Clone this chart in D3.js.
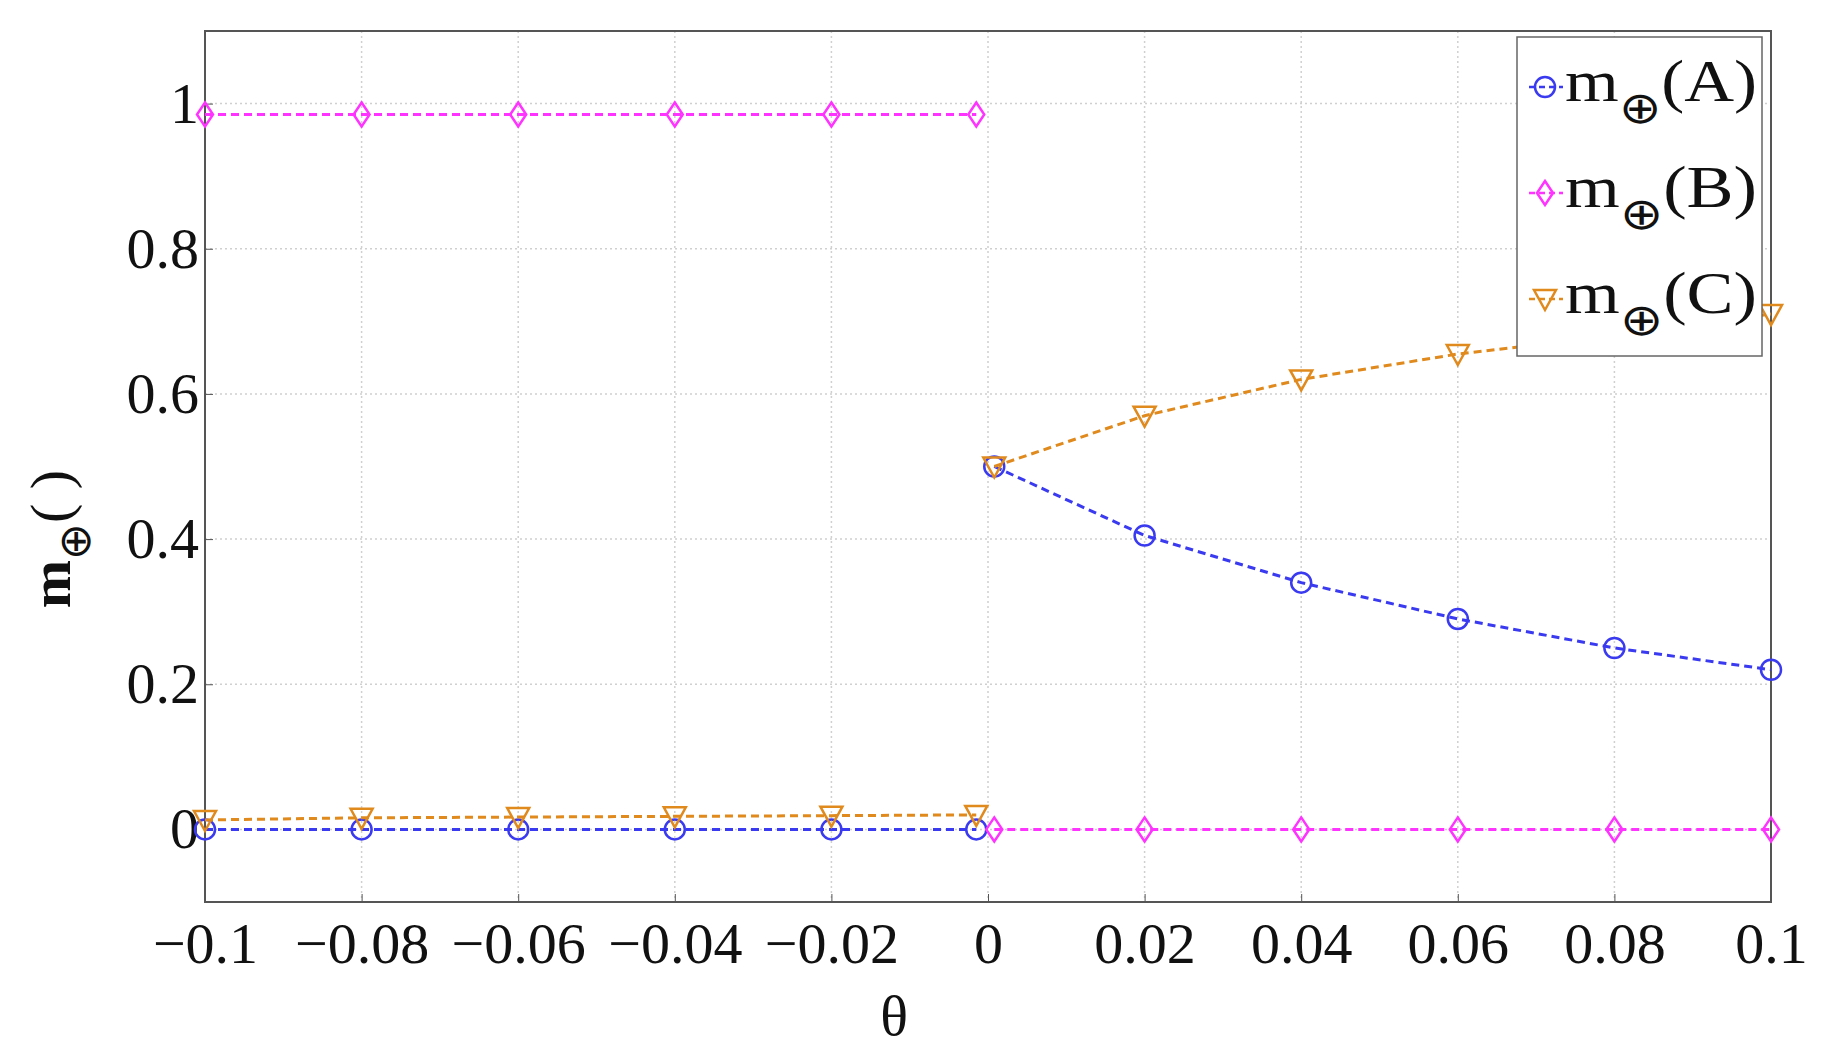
<!DOCTYPE html>
<html><head><meta charset="utf-8">
<script src="https://cdn.jsdelivr.net/npm/d3@7"></script>
<style>body{margin:0;background:#fff}text{font-family:"Liberation Serif",serif}</style>
</head><body>
<svg id="chart" width="1840" height="1049"></svg>
<script>
// theta values, split at the transition (no line across 0)
const thetaLeft = [-0.1, -0.08, -0.06, -0.04, -0.02, -0.0015];
const thetaRight = [0.0008, 0.02, 0.04, 0.06, 0.08, 0.1];
const aLeft = [0, 0, 0, 0, 0, 0];
const aRight = [0.5, 0.405, 0.34, 0.29, 0.25, 0.22];
const bLeft = [0.985, 0.985, 0.985, 0.985, 0.985, 0.985];
const bRight = [0, 0, 0, 0, 0, 0];
const cLeft = [0.013, 0.016, 0.017, 0.018, 0.019, 0.02];
const cRight = [0.5, 0.57, 0.62, 0.655, 0.68, 0.71];
const xTicks = [-0.1, -0.08, -0.06, -0.04, -0.02, 0, 0.02, 0.04, 0.06, 0.08, 0.1];
const yTicks = [0, 0.2, 0.4, 0.6, 0.8, 1];

const series = [
  {name: "A", color: "#3a3af0", shape: "circle", left: aLeft, right: aRight},
  {name: "B", color: "#ff33ff", shape: "diamond", left: bLeft, right: bRight},
  {name: "C", color: "#e08a1e", shape: "tri", left: cLeft, right: cRight}
];

let svg = d3.select("#chart");
let margin = {top: 31, right: 69, bottom: 147, left: 205};
let width = +svg.attr("width") - margin.left - margin.right;
let height = +svg.attr("height") - margin.top - margin.bottom;
let g = svg.append("g").attr("transform", `translate(${margin.left},${margin.top})`);

let x = d3.scaleLinear().domain([-0.1, 0.1]).range([0, width]);
let y = d3.scaleLinear().domain([-0.1, 1.1]).range([height, 0]);

// grid
g.selectAll(".gx").data(xTicks).enter().append("line")
  .attr("x1", d => x(d)).attr("x2", d => x(d)).attr("y1", 0).attr("y2", height)
  .attr("stroke", "#d0d0d0").attr("stroke-dasharray", "2,3").attr("stroke-width", 1.5);
g.selectAll(".gy").data(yTicks).enter().append("line")
  .attr("y1", d => y(d)).attr("y2", d => y(d)).attr("x1", 0).attr("x2", width)
  .attr("stroke", "#d0d0d0").attr("stroke-dasharray", "2,3").attr("stroke-width", 1.5);

g.append("rect").attr("width", width).attr("height", height)
  .attr("fill", "none").attr("stroke", "#555").attr("stroke-width", 2);

let xAxis = g.append("g").attr("transform", `translate(0,${height})`)
  .call(d3.axisBottom(x).tickValues(xTicks).tickSize(-8).tickPadding(20).tickFormat(d3.format("")));
let yAxis = g.append("g")
  .call(d3.axisLeft(y).tickValues(yTicks).tickSize(-8).tickPadding(6).tickFormat(d3.format("")));
[xAxis, yAxis].forEach(a => {
  a.select(".domain").remove();
  a.selectAll("line").attr("stroke", "#555");
  a.selectAll("text").attr("font-size", 58).attr("fill", "#111").style("font-family", "Liberation Serif");
});
xAxis.selectAll("text").attr("dy", "0.71em");

function marker(sel, shape, color) {
  if (shape === "circle") sel.append("circle").attr("r", 10);
  else if (shape === "diamond") sel.append("path").attr("d", "M0,-12L8,0L0,12L-8,0Z");
  else sel.append("path").attr("d", "M-11,-9L11,-9L0,11Z");
  sel.selectAll("circle,path").attr("fill", "none").attr("stroke", color).attr("stroke-width", 2.5);
}

let line = d3.line().x(d => x(d[0])).y(d => y(d[1]));
series.forEach(s => {
  [[thetaLeft, s.left], [thetaRight, s.right]].forEach(([th, v]) => {
    let pts = th.map((t, i) => [t, v[i]]);
    g.append("path").datum(pts).attr("d", line).attr("fill", "none")
      .attr("stroke", s.color).attr("stroke-width", 3).attr("stroke-dasharray", "8,5");
    pts.forEach(p => {
      let m = g.append("g").attr("transform", `translate(${x(p[0])},${y(p[1])})`);
      marker(m, s.shape, s.color);
    });
  });
});

// legend
let lg = g.append("g").attr("transform", `translate(${1517 - margin.left},${37 - margin.top})`);
lg.append("rect").attr("width", 245).attr("height", 319).attr("fill", "#fff").attr("stroke", "#666").attr("stroke-width", 1.5);
series.forEach((s, i) => {
  let row = lg.append("g").attr("transform", `translate(0,${50 + i * 106})`);
  row.append("line").attr("x1", 12).attr("x2", 46).attr("stroke", s.color).attr("stroke-width", 2.5).attr("stroke-dasharray", "6,4");
  let m = row.append("g").attr("transform", "translate(28,0)");
  marker(m, s.shape, s.color);
  let t = row.append("text").attr("x", 48).attr("y", 14).attr("font-size", 60).attr("fill", "#111")
    .attr("textLength", 192).attr("lengthAdjust", "spacingAndGlyphs");
  t.append("tspan").text("m");
  t.append("tspan").attr("font-size", 44).attr("dy", 22).text("\u2295");
  t.append("tspan").attr("dy", -22).text("(" + s.name + ")");
});

// axis titles
svg.append("text").attr("x", margin.left + x(-0.012)).attr("y", 1035).attr("text-anchor", "middle")
  .attr("font-size", 58).attr("fill", "#111").text("θ");
let yt = svg.append("text").attr("transform", `translate(70,${margin.top + y(0.4)}) rotate(-90)`)
  .attr("text-anchor", "middle").attr("font-size", 58).attr("fill", "#111").attr("font-weight", "bold");
yt.append("tspan").text("m");
yt.append("tspan").attr("font-size", 44).attr("dy", 20).attr("font-weight", "normal").text("\u2295");
yt.append("tspan").attr("dy", -20).attr("font-weight", "normal").text("( )");
</script>
</body></html>
